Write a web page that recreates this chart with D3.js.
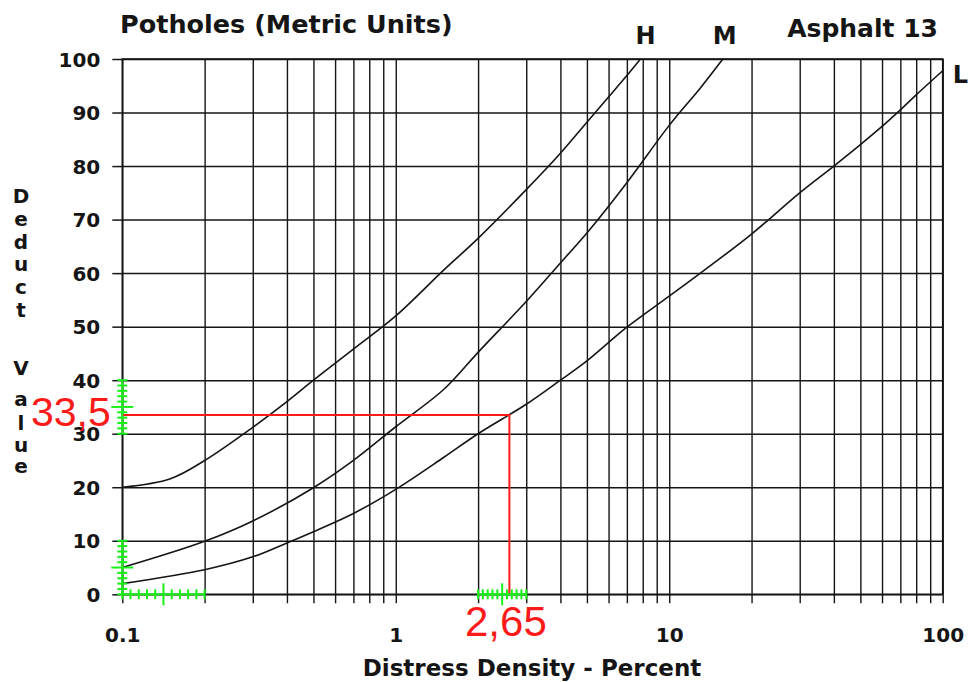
<!DOCTYPE html>
<html><head><meta charset="utf-8">
<script src="https://cdn.jsdelivr.net/npm/d3@7"></script>
<style>body{margin:0;background:#fff}svg{display:block}</style>
</head><body><svg id="c" width="971" height="682"></svg>
<script>
// ---- data ----
const densityH = [0.1, 0.15, 0.2, 0.3, 0.4, 0.5, 0.7, 1, 1.5, 2, 3, 4, 5, 6, 7, 7.85];
const deductH  = [20, 21.6, 25, 31.2, 36, 40, 45.8, 52, 60.6, 66.5, 75.6, 82.4, 88.2, 92.9, 96.9, 100];
const densityM = [0.1, 0.2, 0.3, 0.5, 0.7, 1, 1.5, 2, 3, 4, 5, 7, 10, 13, 15.7];
const deductM  = [5, 9.9, 13.7, 19.9, 25, 31.3, 38.3, 45.2, 54.7, 61.9, 67.5, 76.9, 87.6, 94.6, 100];
const densityL = [0.1, 0.2, 0.3, 0.4, 0.5, 0.7, 1, 1.5, 2, 3, 4, 5, 7, 10, 13, 20, 30, 40, 50, 60, 70, 80, 100];
const deductL  = [2, 4.6, 7.0, 9.6, 11.7, 15.1, 19.6, 25.6, 30, 35.5, 40, 43.6, 49.9, 55.7, 60, 67.3, 75, 80, 84, 87.4, 90.5, 93.3, 97.8];
const seriesNames = ["H", "M", "L"];
const xLabelTicks = [0.1, 1, 10, 100];
const xLabelText = ["0.1", "1", "10", "100"];
const yTickValues = [0, 10, 20, 30, 40, 50, 60, 70, 80, 90, 100];
const titleText = "Potholes (Metric Units)";
const cornerText = "Asphalt 13";
const xTitleText = "Distress Density - Percent";
const yTitleText = "Deduct Value";
const readDensity = 2.65, readDeduct = 33.5;
const readDensityText = "2,65", readDeductText = "33,5";
const rulerY = [[30, 40], [0, 10]];
const rulerX = [[0.1, 0.2], [2, 3]];

// ---- layout ----
const svg = d3.select("#c");
svg.append("rect").attr("width", 971).attr("height", 682).attr("fill", "#fff");
const L = 122.3, R = 942.7, T = 59, B = 594.3;
const x = d3.scaleLog().domain([0.1, 100]).range([L, R]);
const y = d3.scaleLinear().domain([0, 100]).range([B, T]);
const FONT = "'DejaVu Sans', sans-serif";
const INK = "#151515";

// vertical grid (all log ticks)
const allX = x.ticks();
svg.append("g").attr("transform", `translate(0,${B})`)
  .call(d3.axisBottom(x).tickValues(allX).tickSize(-(B - T)).tickFormat(""))
  .call(g => g.select(".domain").remove())
  .call(g => g.selectAll("line").attr("stroke", INK).attr("stroke-width", 1.4));
// short ticks below + labels
svg.append("g").attr("transform", `translate(0,${B})`)
  .call(d3.axisBottom(x).tickValues(allX).tickSize(9).tickPadding(24.5)
     .tickFormat(d => { const i = xLabelTicks.findIndex(v => Math.abs(v - d) < 1e-9); return i >= 0 ? xLabelText[i] : ""; }))
  .call(g => g.select(".domain").remove())
  .call(g => g.selectAll("line").attr("stroke", INK).attr("stroke-width", 1.4))
  .call(g => g.selectAll("text").attr("fill", INK).style("font", `bold 20px ${FONT}`));

// horizontal grid
svg.append("g").attr("transform", `translate(${L},0)`)
  .call(d3.axisLeft(y).tickValues(yTickValues).tickSize(-(R - L)).tickFormat(""))
  .call(g => g.select(".domain").remove())
  .call(g => g.selectAll("line").attr("stroke", INK).attr("stroke-width", 1.5));
svg.append("g").attr("transform", `translate(${L},0)`)
  .call(d3.axisLeft(y).tickValues(yTickValues).tickSize(10).tickPadding(12))
  .call(g => g.select(".domain").remove())
  .call(g => g.selectAll("line").attr("stroke", INK).attr("stroke-width", 1.5))
  .call(g => g.selectAll("text").attr("fill", INK).attr("dy", "0.36em").style("font", `bold 20px ${FONT}`));

// frame
svg.append("rect").attr("x", L).attr("y", T).attr("width", R - L).attr("height", B - T)
  .attr("fill", "none").attr("stroke", INK).attr("stroke-width", 1.6);

// curves
const line = d3.line().x(d => x(d[0])).y(d => y(d[1])).curve(d3.curveCatmullRom.alpha(0.5));
const series = [d3.zip(densityH, deductH), d3.zip(densityM, deductM), d3.zip(densityL, deductL)];
svg.append("g").selectAll("path").data(series).join("path")
  .attr("d", line).attr("fill", "none").attr("stroke", INK).attr("stroke-width", 1.6);

// curve labels
const lastH = series[0][series[0].length - 1], lastM = series[1][series[1].length - 1], lastL = series[2][series[2].length - 1];
svg.append("text").attr("x", x(lastH[0]) + 5).attr("y", y(lastH[1]) - 15).attr("text-anchor", "middle")
  .style("font", `bold 24px ${FONT}`).attr("fill", INK).text(seriesNames[0]);
svg.append("text").attr("x", x(lastM[0]) + 2).attr("y", y(lastM[1]) - 15).attr("text-anchor", "middle")
  .style("font", `bold 24px ${FONT}`).attr("fill", INK).text(seriesNames[1]);
svg.append("text").attr("x", x(lastL[0]) + 10).attr("y", y(lastL[1]) + 12).attr("text-anchor", "start")
  .style("font", `bold 24px ${FONT}`).attr("fill", INK).text(seriesNames[2]);

// titles
svg.append("text").attr("x", 120).attr("y", 33).style("font", `bold 25.5px ${FONT}`).attr("fill", INK).text(titleText);
svg.append("text").attr("x", 938).attr("y", 37).attr("text-anchor", "end").style("font", `bold 25px ${FONT}`).attr("fill", INK).text(cornerText);
svg.append("text").attr("x", 532).attr("y", 676).attr("text-anchor", "middle").style("font", `bold 23px ${FONT}`).attr("fill", INK).text(xTitleText);

// vertical stacked y title
const yBase = [203, 226, 249, 271, 294, 317, null, 375, 406, 430, 452, 473];
const yt = svg.append("g");
yTitleText.split("").forEach((ch, i) => {
  if (ch === " ") return;
  yt.append("text").attr("x", 21).attr("y", yBase[i]).attr("text-anchor", "middle")
    .style("font", `bold 20px ${FONT}`).attr("fill", INK).text(ch);
});

// ---- annotation: red reading lines + green rulers ----
const RED = "#ff1a1a", GREEN = "#19f019";
const rulerPx = (a, b, t) => x(a) + (x(b) - x(a)) * t; // linear ruler between grid lines
const readX = rulerPx(rulerX[1][0], rulerX[1][1], (readDensity - rulerX[1][0]) / (rulerX[1][1] - rulerX[1][0]));
const ann = svg.append("g");
ann.append("path").attr("d", `M${x(0.1)},${y(readDeduct)}H${readX}V${y(0)}`)
  .attr("fill", "none").attr("stroke", RED).attr("stroke-width", 2);

rulerY.forEach(([a, b]) => {
  const g = ann.append("g").attr("stroke", GREEN).attr("stroke-width", 2);
  g.append("line").attr("x1", L).attr("x2", L).attr("y1", y(a)).attr("y2", y(b));
  d3.range(0, 11).forEach(i => {
    const v = a + (b - a) * i / 10, w = i === 5 ? 11 : 5;
    g.append("line").attr("x1", L - w).attr("x2", L + w).attr("y1", y(v)).attr("y2", y(v));
  });
});
rulerX.forEach(([a, b]) => {
  const g = ann.append("g").attr("stroke", GREEN).attr("stroke-width", 2);
  g.append("line").attr("x1", x(a)).attr("x2", x(b)).attr("y1", B).attr("y2", B);
  d3.range(0, 11).forEach(i => {
    const px = rulerPx(a, b, i / 10), h = i === 5 ? 11 : 5;
    g.append("line").attr("x1", px).attr("x2", px).attr("y1", B - h).attr("y2", B + h);
  });
});

ann.append("text").attr("x", 31).attr("y", 426).style("font", "41px 'Liberation Sans', Arial, sans-serif")
  .attr("fill", RED).text(readDeductText);
ann.append("text").attr("x", 465).attr("y", 636).style("font", "42px 'Liberation Sans', Arial, sans-serif")
  .attr("fill", RED).text(readDensityText);
</script></body></html>
